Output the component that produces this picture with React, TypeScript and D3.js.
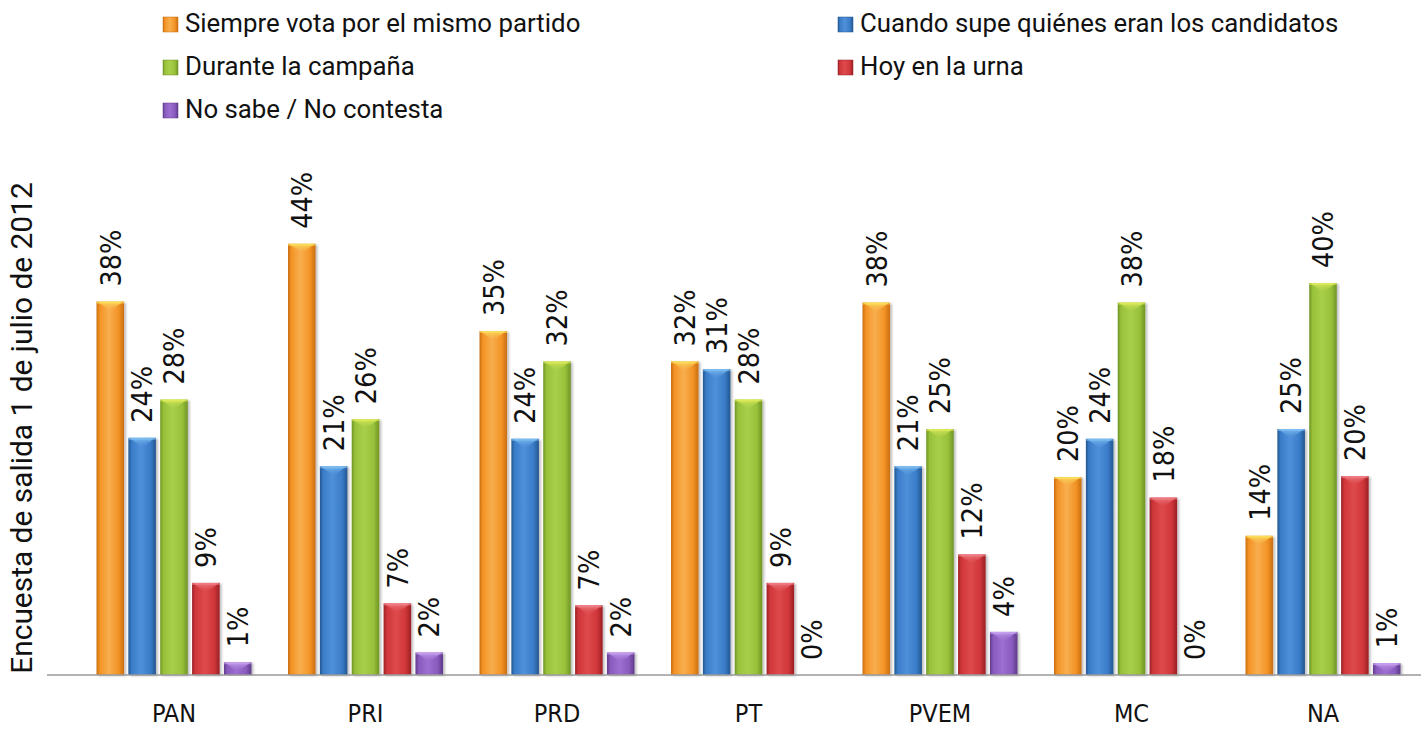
import React from "react";
import * as d3 from "d3";

const categories = ["PAN", "PRI", "PRD", "PT", "PVEM", "MC", "NA"];
const seriesNames = [
  "Siempre vota por el mismo partido",
  "Cuando supe quiénes eran los candidatos",
  "Durante la campaña",
  "Hoy en la urna",
  "No sabe / No contesta",
];
const siempre = [38.1, 44.0, 35.1, 32.0, 38.0, 20.2, 14.2];
const cuando = [24.2, 21.3, 24.1, 31.2, 21.3, 24.1, 25.1];
const durante = [28.1, 26.1, 32.0, 28.1, 25.1, 38.0, 40.0];
const hoy = [9.4, 7.3, 7.1, 9.4, 12.3, 18.1, 20.3];
const noSabe = [1.3, 2.3, 2.3, 0, 4.4, 0, 1.2];
const seriesValues = [siempre, cuando, durante, hoy, noSabe];
const yTitle = "Encuesta de salida 1 de julio de 2012";

const palette = [
  { base: "#F39325", light: "#F8AE4E", dark: "#C96D10", tip: "#FBE05A" },
  { base: "#3A7CC8", light: "#4F90DA", dark: "#23568F", tip: "#7FC0F2" },
  { base: "#98C13A", light: "#A9CF4A", dark: "#6F9424", tip: "#DDEB5A" },
  { base: "#D0363A", light: "#DE4A4C", dark: "#9A2024", tip: "#F08088" },
  { base: "#8A5BBE", light: "#9C6FD0", dark: "#5E3A8A", tip: "#C8A2F0" },
];

const W = 1421;
const H = 729;
const baseline = 675;
const narrow = "'Liberation Sans Narrow', 'DejaVu Sans Condensed', 'Open Sans', sans-serif";
const legendFont = "Roboto, 'Open Sans', sans-serif";

export default function App() {
  const x0 = d3.scaleBand<string>().domain(categories).range([78.25, 1418.75]);
  const groupW = 155;
  const x1 = d3
    .scaleBand<number>()
    .domain(d3.range(seriesNames.length))
    .range([0, groupW])
    .paddingInner(0.135)
    .paddingOuter(0);
  const y = d3.scaleLinear().domain([0, 50]).range([baseline, baseline - 490]);
  const fmt = (v: number) => `${Math.round(v)}%`;
  const bw = x1.bandwidth();

  const legendPos = [
    { x: 185, y: 23 },
    { x: 860, y: 23 },
    { x: 185, y: 66 },
    { x: 860, y: 66 },
    { x: 185, y: 109 },
  ];

  return (
    <svg width={W} height={H} style={{ position: "absolute", left: 0, top: 0, background: "#fff" }}>
      <defs>
        {palette.map((p, i) => (
          <linearGradient key={i} id={`g${i}`} x1="0" x2="1" y1="0" y2="0">
            <stop offset="0" stopColor={p.dark} />
            <stop offset="0.12" stopColor={p.base} />
            <stop offset="0.45" stopColor={p.light} />
            <stop offset="0.8" stopColor={p.base} />
            <stop offset="1" stopColor={p.dark} />
          </linearGradient>
        ))}
        {palette.map((p, i) => (
          <linearGradient key={i} id={`t${i}`} x1="0" x2="0" y1="0" y2="1">
            <stop offset="0" stopColor={p.tip} stopOpacity="0.95" />
            <stop offset="1" stopColor={p.light} stopOpacity="0" />
          </linearGradient>
        ))}
        <filter id="sh" x="-20%" y="-5%" width="140%" height="110%">
          <feDropShadow dx="2" dy="1" stdDeviation="1.2" floodColor="#000" floodOpacity="0.25" />
        </filter>
      </defs>

      {/* legend */}
      {seriesNames.map((s, i) => (
        <g key={s} transform={`translate(${legendPos[i].x},${legendPos[i].y})`}>
          <rect x={-22} y={-6} width={15} height={15} fill={`url(#g${i})`} stroke={palette[i].dark} strokeWidth={0.5} />
          <text x={0} y={0} dy="0.36em" fontFamily={legendFont} fontSize={25.8} fill="#111">
            {s}
          </text>
        </g>
      ))}

      {/* y title */}
      <text
        transform={`translate(21,${428}) rotate(-90)`}
        textAnchor="middle"
        dy="0.36em"
        fontFamily={legendFont}
        fontSize={29.9}
        fill="#111"
      >
        {yTitle}
      </text>

      {/* bars */}
      {categories.map((c, ci) => {
        const gx = (x0(c) as number) + (x0.bandwidth() - groupW) / 2;
        return (
          <g key={c} transform={`translate(${gx},0)`}>
            {seriesValues.map((vals, si) => {
              const v = vals[ci];
              const bx = x1(si) as number;
              const top = y(v);
              const h = baseline - top;
              const cx = bx + bw / 2;
              return (
                <g key={si}>
                  {h > 0 && (
                    <g>
                      <rect x={bx} y={top} width={bw} height={h} fill={`url(#g${si})`} filter="url(#sh)" />
                      <path
                        d={`M${bx + 1},${top} L${bx + bw - 1},${top} L${cx},${top + Math.min(10, h)} Z`}
                        fill={`url(#t${si})`}
                      />
                      <rect x={bx} y={top} width={bw} height={Math.min(2, h)} fill={palette[si].tip} opacity={0.6} />
                    </g>
                  )}
                  <text
                    transform={`translate(${cx},${top - 15}) rotate(-90)`}
                    dy="0.36em"
                    fontFamily={narrow}
                    fontSize={28.5}
                    fill="#111"
                  >
                    {fmt(v)}
                  </text>
                </g>
              );
            })}
          </g>
        );
      })}

      {/* axis */}
      <line x1={47} x2={1421} y1={baseline} y2={baseline} stroke="#9a9a9a" strokeWidth={1.5} />
      {categories.map((c) => (
        <text
          key={c}
          x={(x0(c) as number) + x0.bandwidth() / 2}
          y={722}
          textAnchor="middle"
          fontFamily={narrow}
          fontSize={25}
          fill="#111"
        >
          {c}
        </text>
      ))}
    </svg>
  );
}
